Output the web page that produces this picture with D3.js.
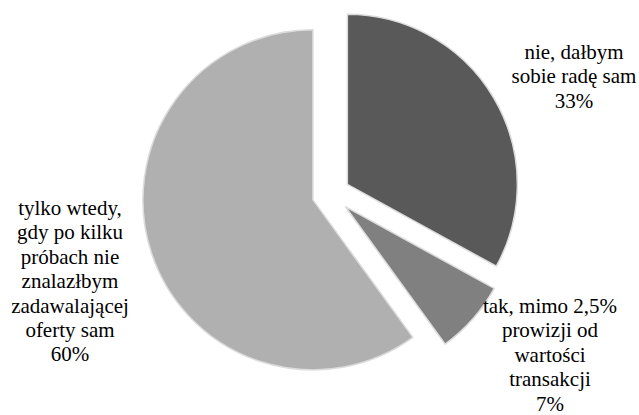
<!DOCTYPE html>
<html>
<head>
<meta charset="utf-8">
<script src="https://cdn.jsdelivr.net/npm/d3@7/dist/d3.min.js"></script>
<style>
  html, body { margin: 0; padding: 0; background: #fff; }
  svg { display: block; }
</style>
</head>
<body style="font-family:'Liberation Serif'">
<svg id="chart" width="639" height="415" style="font-family:'Liberation Serif'"></svg>
<script>
// Answer categories, their shares (%) and the label lines shown beside each slice
const categories = [
  "nie, dałbym sobie radę sam",
  "tak, mimo 2,5% prowizji od wartości transakcji",
  "tylko wtedy, gdy po kilku próbach nie znalazłbym zadawalającej oferty sam"
];
const values = [33, 7, 60];
const labelLines = [
  ["nie, dałbym", "sobie radę sam", "33%"],
  ["tak, mimo 2,5%", "prowizji od", "wartości", "transakcji", "7%"],
  ["tylko wtedy,", "gdy po kilku", "próbach nie", "znalazłbym", "zadawalającej", "oferty sam", "60%"]
];
const colors = ["#595959", "#808080", "#b0b0b0"];

// Layout
const cx = 331, cy = 194, radius = 170, explode = 19;
// label centre x and first-line baseline y
const labelPos = [ [574, 59], [550, 313], [70, 215] ];
const lineHeight = 24.4;

const svg = d3.select("#chart");

const pie = d3.pie().sort(null).value(d => d)
  .startAngle(0).endAngle(2 * Math.PI);
const arc = d3.arc().innerRadius(0).outerRadius(radius);
const arcs = pie(values);

const g = svg.append("g").attr("transform", `translate(${cx},${cy})`);

g.selectAll("path.slice")
  .data(arcs)
  .join("path")
  .attr("class", "slice")
  .attr("d", arc)
  .attr("fill", (d, i) => colors[i])
  .attr("stroke", "#dcdcdc")
  .attr("stroke-width", 1.5)
  .attr("transform", d => {
    const mid = (d.startAngle + d.endAngle) / 2;
    return `translate(${explode * Math.sin(mid)},${-explode * Math.cos(mid)})`;
  });

// Slice labels, one centred serif line per text element
labelLines.forEach((lines, i) => {
  lines.forEach((ln, k) => {
    svg.append("text")
      .attr("x", labelPos[i][0])
      .attr("y", labelPos[i][1] + k * lineHeight)
      .attr("text-anchor", "middle")
      .attr("style", "font-family:'Liberation Serif';font-size:21px")
      .attr("fill", "#000")
      .text(ln);
  });
});
</script>
</body>
</html>
